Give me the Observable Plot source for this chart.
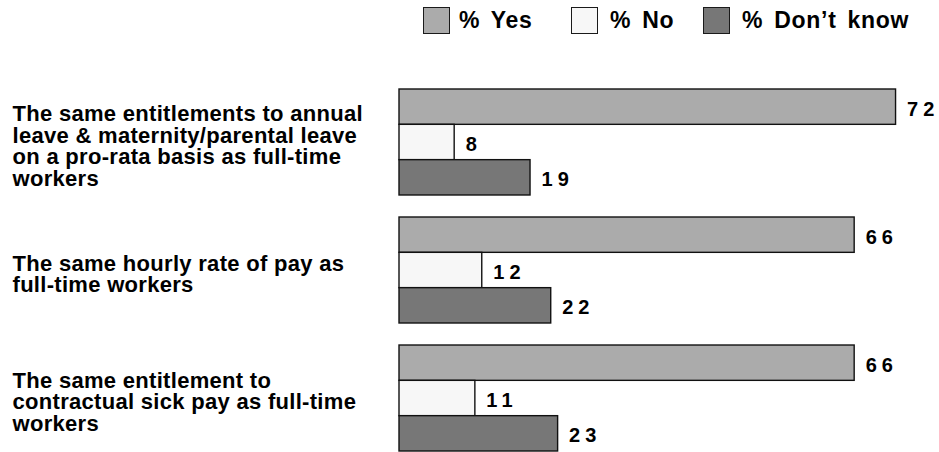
<!DOCTYPE html>
<html>
<head>
<meta charset="utf-8">
<script src="https://cdn.jsdelivr.net/npm/d3@7"></script>
<script src="https://cdn.jsdelivr.net/npm/@observablehq/plot@0.6"></script>
<style>
  body { margin: 0; background: #fff; font-family: "Liberation Sans", Arial, sans-serif; }
  #legend { position: relative; width: 939px; height: 44px; }
  #legend .sw { position: absolute; top: 7px; width: 27px; height: 27px; box-sizing: border-box; border: 1.5px solid #1a1a1a; }
  #legend .lb { position: absolute; top: 9px; font-size: 23px; line-height: 23px; font-weight: bold; color: #000; letter-spacing: 0.7px; word-spacing: 4px; white-space: nowrap; }
  #chart svg { display: block; }
</style>
</head>
<body>
<div id="legend"></div>
<div id="chart"></div>
<script>
// ---- data ----
const questions = [
  "The same entitlements to annual\nleave & maternity/parental leave\non a pro-rata basis as full-time\nworkers",
  "The same hourly rate of pay as\nfull-time workers",
  "The same entitlement to\ncontractual sick pay as full-time\nworkers"
];
const series = ["% Yes", "% No", "% Don\u2019t know"];
const yesValues = [72, 66, 66];
const noValues = [8, 12, 11];
const dontKnowValues = [19, 22, 23];
const seriesColors = ["#ababab", "#f7f7f7", "#777777"];

// ---- table built from the arrays ----
const valuesBySeries = [yesValues, noValues, dontKnowValues];
const rows = [];
questions.forEach((q, i) => {
  series.forEach((s, j) => rows.push({question: q, series: s, value: valuesBySeries[j][i]}));
});

// ---- legend (HTML, above the SVG) ----
const legendLayout = [{sw: 423, lb: 459}, {sw: 571, lb: 610}, {sw: 703, lb: 742}];
const legend = document.getElementById("legend");
series.forEach((s, j) => {
  const sw = document.createElement("div");
  sw.className = "sw";
  sw.style.left = legendLayout[j].sw + "px";
  sw.style.background = seriesColors[j];
  legend.appendChild(sw);
  const lb = document.createElement("div");
  lb.className = "lb";
  lb.style.left = legendLayout[j].lb + "px";
  lb.textContent = s;
  legend.appendChild(lb);
});

// ---- chart ----
const chart = Plot.plot({
  width: 939,
  height: 408,
  marginTop: 45,
  marginBottom: 1,
  marginLeft: 399,
  marginRight: 0,
  style: {fontFamily: "'Liberation Sans', Arial, sans-serif", background: "#fff", color: "#000"},
  facet: {data: rows, y: "question"},
  fy: {domain: questions, paddingInner: 0.172, paddingOuter: 0, round: false, axis: null, label: null},
  y: {domain: series, padding: 0, round: false, axis: null, label: null},
  x: {domain: [0, 78.3], axis: null, label: null},
  color: {domain: series, range: seriesColors},
  marks: [
    Plot.barX(rows, {
      x: "value", y: "series", fill: "series",
      stroke: "#111", strokeWidth: 1.4
    }),
    Plot.text(rows, {
      x: "value", y: "series", text: d => String(d.value),
      dx: 11, dy: 2, textAnchor: "start",
      fontSize: 20, fontWeight: "bold", fill: "#000"
    }),
    Plot.text(rows, {
      filter: d => d.series === series[0],
      frameAnchor: "left", text: "question",
      dx: -387, dy: 4, textAnchor: "start", lineAnchor: "middle", lineHeight: 0.98,
      fontSize: 22, fontWeight: "bold", fill: "#000"
    })
  ]
});
// letter spacing for the value labels and question labels
d3.select(chart).selectAll("g[font-size='20'] text").attr("letter-spacing", "5px");
d3.select(chart).selectAll("g[font-size='22'] text").attr("letter-spacing", "0.3px");
document.getElementById("chart").appendChild(chart);
</script>
</body>
</html>
